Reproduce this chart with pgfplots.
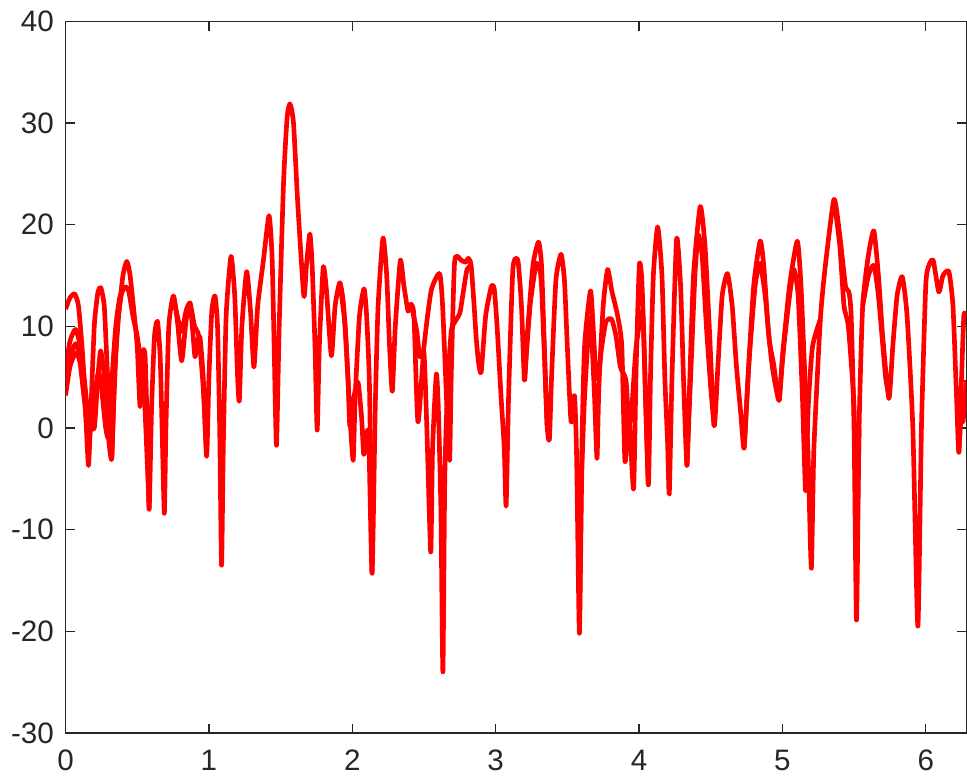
\documentclass[border=0pt]{standalone}
\usepackage{fontspec}
\setmainfont{Liberation Sans}
\usepackage{pgfplots}
\pgfplotsset{compat=1.18}
\definecolor{axgray}{RGB}{38,38,38}

\begin{document}
\begin{tikzpicture}
\begin{axis}[
  width=271pt, height=214pt, scale only axis,
  xmin=0, xmax=6.2832, ymin=-30, ymax=40,
  xtick={0,1,...,6}, ytick={-30,-20,...,40},
  tick pos=both, tick align=inside, major tick length=2.7pt,
  axis line style={axgray, line width=0.4pt}, tick style={axgray, line width=0.4pt},
  tick label style={font=\fontsize{8.9}{10}\selectfont, text=axgray},
  xticklabel style={yshift=-1.6pt},
  /pgf/number format/assume math mode=true,
  cycle list={red},
  every axis plot post/.append style={red, solid, line width=1.4pt, line join=round, mark=none, smooth, tension=0.35},
]
% main curve
\addplot coordinates {
(0,5.7) (0.03,8.5) (0.07,9.7) (0.11,7.5) (0.16,1) (0.2,0.0) (0.225,5) (0.245,7.6) (0.27,5)
(0.30,-1.0) (0.322,-3.0) (0.34,5) (0.37,11) (0.40,15) (0.427,16.4) (0.45,15) (0.48,11) (0.50,8)
(0.52,2.1) (0.54,7.5) (0.555,7) (0.57,0) (0.583,-8.0) (0.60,2) (0.62,9) (0.641,10.5) (0.66,7)
(0.675,-1) (0.689,-8.4) (0.70,0) (0.72,10) (0.752,13.0) (0.78,10.5) (0.81,6.6) (0.84,10.5)
(0.868,12.3) (0.89,9) (0.903,7.0) (0.92,8.5) (0.938,8.9) (0.96,5) (0.984,-2.8) (1.00,5)
(1.02,11.5) (1.042,13.0) (1.06,10) (1.075,0) (1.088,-13.5) (1.10,-2) (1.12,11) (1.154,16.9)
(1.18,13) (1.20,5) (1.212,2.7) (1.23,10) (1.263,15.4) (1.29,11.5) (1.314,6.0) (1.34,12)
(1.38,16.5) (1.419,20.9) (1.44,17) (1.455,8) (1.471,-1.7) (1.49,10) (1.52,24) (1.545,30.5)
(1.565,31.9) (1.59,30) (1.62,22) (1.662,13.0) (1.68,16) (1.704,19.1) (1.72,16) (1.74,8)
(1.755,-0.2) (1.77,8) (1.797,15.8) (1.82,13.5) (1.854,7.1) (1.88,12) (1.913,14.3) (1.94,12)
(1.97,5) (1.983,0.2) (2.01,3) (2.04,4.5) (2.065,1) (2.08,-2.6) (2.10,-0.5) (2.115,-1)
(2.138,-14.3) (2.16,2) (2.18,12) (2.214,18.7) (2.24,15) (2.26,8) (2.279,3.6) (2.30,10)
(2.335,16.5) (2.36,14) (2.389,11.5) (2.41,12.2) (2.43,11) (2.458,0.6) (2.50,8) (2.55,13.5)
(2.609,15.2) (2.63,12) (2.66,2) (2.679,-3.2) (2.69,5) (2.714,16.4) (2.76,16.5) (2.79,16.3)
(2.81,16.7) (2.829,16.0) (2.85,12) (2.864,8.9) (2.88,6.5) (2.899,5.5) (2.93,11) (2.969,13.9)
(2.99,13.7) (3.01,10) (3.038,3.0) (3.06,-2) (3.073,-7.7) (3.09,3) (3.12,15.6) (3.155,16.5)
(3.18,12) (3.201,4.7) (3.22,9) (3.26,16) (3.299,18.3) (3.32,16) (3.34,8) (3.359,0.2)
(3.375,-1.1) (3.39,5) (3.42,14.5) (3.456,17.1) (3.48,14.5) (3.50,8) (3.526,0.6) (3.55,3.2)
(3.565,-3) (3.584,-20.2) (3.60,-5) (3.62,3) (3.654,10.7) (3.67,9) (3.69,3) (3.707,-3.0)
(3.72,4) (3.75,12) (3.781,15.6) (3.81,13.5) (3.85,11.1) (3.88,8) (3.902,-3.3) (3.93,1.0)
(3.962,-6.0) (3.98,6) (4.002,16.0) (4.02,14.5) (4.04,6) (4.065,-5.6) (4.08,5) (4.10,15)
(4.13,19.8) (4.16,15) (4.18,5) (4.199,-1.3) (4.211,-6.5) (4.23,5) (4.262,18.6) (4.29,14)
(4.31,5) (4.334,-3.7) (4.35,3) (4.38,15) (4.427,21.8) (4.46,18) (4.49,10) (4.524,0.2)
(4.55,6) (4.58,13) (4.617,15.2) (4.65,12) (4.68,6) (4.71,1.4) (4.733,-2.0) (4.76,5)
(4.80,14) (4.845,18.4) (4.87,16) (4.90,10) (4.93,6) (4.977,2.7) (5.00,7) (5.05,14)
(5.104,18.4) (5.13,14) (5.16,4) (5.18,-3) (5.202,-13.8) (5.22,-2) (5.265,10.7) (5.30,16)
(5.36,22.5) (5.40,19) (5.44,14) (5.464,13.4) (5.48,11) (5.50,0) (5.517,-18.9) (5.535,0)
(5.56,12) (5.60,17) (5.638,19.4) (5.67,15) (5.70,9) (5.743,2.9) (5.77,8) (5.80,13)
(5.836,14.9) (5.87,11) (5.91,0) (5.945,-19.5) (5.97,0) (6.0,14) (6.022,16.0) (6.052,16.5)
(6.091,13.4) (6.12,15) (6.161,15.4) (6.19,12) (6.215,3) (6.231,-2.4) (6.25,5) (6.266,11.1)
(6.2832,11.0)
};
% other curves, where they leave the main one
\addplot coordinates {
(0,11.7) (0.03,12.8) (0.063,13.2) (0.09,12) (0.12,7) (0.145,0) (0.16,-3.7) (0.175,1)
(0.20,10) (0.225,13.3) (0.246,13.8) (0.27,12) (0.29,6) (0.31,0) (0.322,-3.0) (0.335,2)
(0.36,10) (0.39,13.2) (0.416,13.9) (0.44,13.5) (0.47,11) (0.50,9) (0.52,7) (0.55,3) (0.583,-8.0)
};
\addplot coordinates {
(0,4.7) (0.03,7) (0.07,8.3) (0.10,7) (0.13,3) (0.16,-1) (0.185,1) (0.21,4) (0.23,5.5)
(0.25,4) (0.28,0) (0.30,-0.9) (0.32,4) (0.35,10) (0.38,13) (0.416,13.9)
};
\addplot coordinates {
(0,3.2) (0.03,6) (0.07,7.4) (0.10,6.5) (0.13,3) (0.16,0.5) (0.185,0) (0.2,0.0)
};
\addplot coordinates {
(0.752,13.0) (0.78,11) (0.81,9.5) (0.84,11.5) (0.868,12.3) (0.90,10) (0.93,9) (0.96,4) (0.984,-2.8)
};
\addplot coordinates {
(1.913,14.3) (1.95,10) (1.98,2) (2.006,-3.2) (2.02,3) (2.05,11) (2.082,13.7) (2.10,11)
(2.12,4) (2.138,-14.3)
};
\addplot coordinates {
(2.41,12.2) (2.45,9.5) (2.47,7.0) (2.50,7.4) (2.52,0) (2.547,-12.2) (2.56,-2) (2.586,5.3)
(2.60,2) (2.618,-8) (2.632,-24) (2.645,-5) (2.665,4) (2.69,9.5) (2.714,10.4) (2.75,11.3)
(2.77,13) (2.80,15.6) (2.829,16.0)
};
\addplot coordinates {
(3.201,4.7) (3.24,12) (3.28,16) (3.30,16.0) (3.32,14) (3.359,0.2)
};
\addplot coordinates {
(3.584,-20.2) (3.60,-3) (3.62,8) (3.661,13.5) (3.68,10) (3.70,5) (3.72,5.5) (3.74,8)
(3.77,10.5) (3.809,10.7) (3.84,9) (3.87,6) (3.909,4.7) (3.93,0) (3.95,2) (3.98,8)
(4.025,11.5) (4.045,3) (4.065,-5.6)
};
\addplot coordinates {
(4.334,-3.7) (4.36,5) (4.39,15) (4.413,19.0) (4.44,17) (4.47,10) (4.50,4) (4.524,0.2)
};
\addplot coordinates {
(4.733,-2.0) (4.77,7) (4.81,14) (4.845,16.2) (4.88,13) (4.91,8.5) (4.94,6.2) (4.96,4) (4.977,2.7)
};
\addplot coordinates {
(4.977,2.7) (5.01,8) (5.05,13) (5.08,15.6) (5.11,13) (5.14,3) (5.162,-6.2) (5.18,2) (5.21,8) (5.265,10.7)
};
\addplot coordinates {
(5.36,22.5) (5.40,18) (5.43,12) (5.46,10) (5.50,2) (5.517,-12) (5.535,0)
};
\addplot coordinates {
(5.56,12) (5.60,15) (5.638,16.0) (5.67,13) (5.72,5) (5.743,3.5)
};
\addplot coordinates {
(6.231,-2.4) (6.25,2) (6.26,0.6) (6.2832,4.7)
};
\end{axis}
\end{tikzpicture}
\end{document}
